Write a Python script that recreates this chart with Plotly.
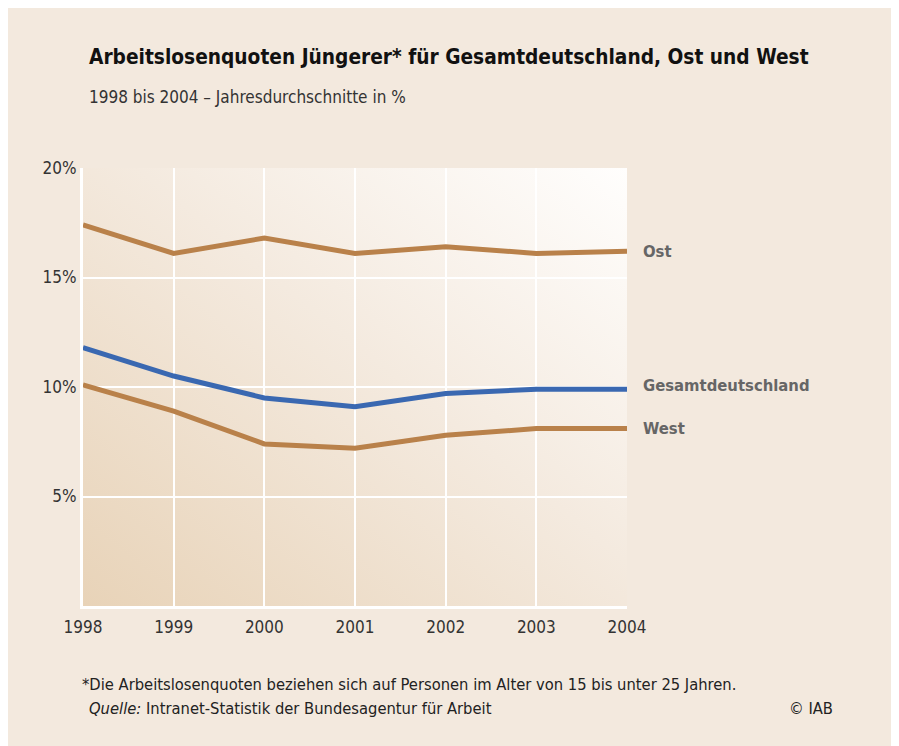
import base64
import plotly.graph_objects as go

years = [1998, 1999, 2000, 2001, 2002, 2003, 2004]
ost = [17.4, 16.1, 16.8, 16.1, 16.4, 16.1, 16.2]
gesamt = [11.8, 10.5, 9.5, 9.1, 9.7, 9.9, 9.9]
west = [10.1, 8.9, 7.4, 7.2, 7.8, 8.1, 8.1]
y_ticks = [5, 10, 15, 20]
y_tick_labels = ["5%", "10%", "15%", "20%"]

BROWN = "#b9814a"
BLUE = "#3a68b1"
FONT = "DejaVu Sans Condensed, Liberation Sans Narrow, Arial Narrow, sans-serif"

# page body has an 8px margin; work in screen coordinates and subtract it
OFF = 8
W, H = 899, 746
pl, pr, pt, pb = 83 - OFF, W - (627 - OFF), 168 - OFF, H - (606 - OFF)
pw, ph = W - pl - pr, H - pt - pb


def px(xs):
    return (xs - OFF - pl) / pw


def py(ys):
    return (H - pb - (ys - OFF)) / ph


svg = ('<svg xmlns="http://www.w3.org/2000/svg" width="544" height="438" preserveAspectRatio="none">'
       '<defs><linearGradient id="g" x1="0" y1="1" x2="1" y2="0">'
       '<stop offset="0" stop-color="#e8d3b8"/><stop offset="0.55" stop-color="#f4eadf"/>'
       '<stop offset="1" stop-color="#fffefd"/></linearGradient></defs>'
       '<rect width="544" height="438" fill="url(#g)"/></svg>')
bg_uri = "data:image/svg+xml;base64," + base64.b64encode(svg.encode()).decode()

fig = go.Figure()
for name, vals, col in [("Ost", ost, BROWN), ("West", west, BROWN), ("Gesamtdeutschland", gesamt, BLUE)]:
    fig.add_trace(go.Scatter(x=years, y=vals, mode="lines", name=name,
                             line=dict(color=col, width=5), hoverinfo="x+y+name"))

for name, vals, ys in [("Ost", ost, 0), ("Gesamtdeutschland", gesamt, 4), ("West", west, 0)]:
    fig.add_annotation(x=years[-1], y=vals[-1], xref="x", yref="y", text="<b>" + name + "</b>",
                       showarrow=False, xanchor="left", yanchor="middle", xshift=14, yshift=ys,
                       font=dict(family=FONT, size=16.5, color="#666666"))

fig.add_layout_image(dict(source=bg_uri, xref="paper", yref="paper", x=0, y=1, sizex=1, sizey=1,
                          sizing="stretch", xanchor="left", yanchor="top", layer="below"))

fig.add_annotation(x=px(87), y=py(57), xref="paper", yref="paper",
                   text="<b>Arbeitslosenquoten Jüngerer* für Gesamtdeutschland, Ost und West</b>",
                   showarrow=False, xanchor="left", yanchor="middle",
                   font=dict(family=FONT, size=20.7, color="#111111"))
fig.add_annotation(x=px(87), y=py(97), xref="paper", yref="paper",
                   text="1998 bis 2004 – Jahresdurchschnitte in %", showarrow=False,
                   xanchor="left", yanchor="middle", font=dict(family=FONT, size=17, color="#333333"))
fig.add_annotation(x=px(80), y=py(684), xref="paper", yref="paper",
                   text="*Die Arbeitslosenquoten beziehen sich auf Personen im Alter von 15 bis unter 25 Jahren.",
                   showarrow=False, xanchor="left", yanchor="middle",
                   font=dict(family=FONT, size=16.4, color="#222222"))
fig.add_annotation(x=px(87), y=py(708), xref="paper", yref="paper",
                   text="<i>Quelle:</i> Intranet-Statistik der Bundesagentur für Arbeit",
                   showarrow=False, xanchor="left", yanchor="middle",
                   font=dict(family=FONT, size=16.4, color="#222222"))
fig.add_annotation(x=px(835), y=py(708), xref="paper", yref="paper",
                   text="© IAB", showarrow=False, xanchor="right", yanchor="middle",
                   font=dict(family=FONT, size=16.4, color="#222222"))

fig.update_layout(
    width=W, height=H,
    margin=dict(l=pl, r=pr, t=pt, b=pb),
    paper_bgcolor="#f3e9de",
    plot_bgcolor="rgba(0,0,0,0)",
    showlegend=False,
    font=dict(family=FONT, size=17, color="#333333"),
    xaxis=dict(range=[1998, 2004], tickvals=years, ticktext=[str(y) for y in years],
               showgrid=True, gridcolor="#ffffff", gridwidth=2, zeroline=False,
               showline=True, linecolor="#ffffff", linewidth=3, ticks="", ticklen=0,
               ticklabelstandoff=4,
               tickfont=dict(family=FONT, size=17, color="#333333"), fixedrange=True),
    yaxis=dict(range=[0, 20], tickvals=y_ticks, ticktext=y_tick_labels,
               showgrid=True, gridcolor="#ffffff", gridwidth=2, zeroline=False,
               showline=True, linecolor="#ffffff", linewidth=3, ticks="",
               tickfont=dict(family=FONT, size=17, color="#333333"), fixedrange=True),
)

fig.write_html("out.html")
